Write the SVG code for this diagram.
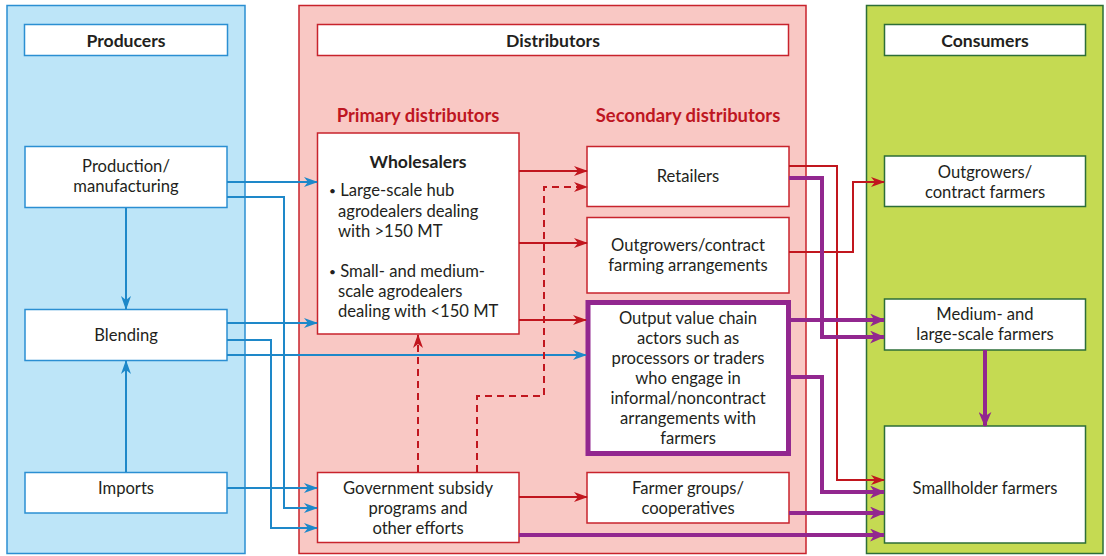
<svg xmlns="http://www.w3.org/2000/svg" width="1106" height="556" viewBox="0 0 1106 556">
<style>
.t{font-family:Lato,"Open Sans","Liberation Sans",sans-serif;font-size:16.6px;fill:#231f20;text-anchor:middle;dominant-baseline:central}
.s{text-anchor:start}
.b{font-weight:bold;font-size:17.6px}
.rh{font-family:Lato,"Open Sans","Liberation Sans",sans-serif;font-size:18.4px;font-weight:bold;fill:#be1622;text-anchor:middle;dominant-baseline:central}
.bx{fill:#fff;stroke-width:1.5}
.pb{stroke:#2b8fd2}
.db{stroke:#c8232c}
.cb{stroke:#2d6e38}
.bl{fill:none;stroke:#1e88c9;stroke-width:2}
.rd{fill:none;stroke:#c1161e;stroke-width:2}
.ds{fill:none;stroke:#c1161e;stroke-width:2;stroke-dasharray:7 5}
.pu{fill:none;stroke:#92278f;stroke-width:4}
</style>
<defs>
<marker id="ab" viewBox="0 0 14 10" refX="13" refY="5" markerWidth="14" markerHeight="10" markerUnits="userSpaceOnUse" orient="auto"><path d="M0,0 L14,5 L0,10 L4,5 z" fill="#1e88c9"/></marker>
<marker id="ar" viewBox="0 0 14 10" refX="13" refY="5" markerWidth="14" markerHeight="10" markerUnits="userSpaceOnUse" orient="auto"><path d="M0,0 L14,5 L0,10 L4,5 z" fill="#c1161e"/></marker>
<marker id="ap" viewBox="0 0 14 12" refX="13" refY="6" markerWidth="15" markerHeight="13" markerUnits="userSpaceOnUse" orient="auto"><path d="M0,0 L14,6 L0,12 L4,6 z" fill="#92278f"/></marker>
</defs>
<rect width="1106" height="556" fill="#fff"/>
<g id="panel-producers">
<rect x="7" y="5.5" width="238" height="548" fill="#bde5f8" stroke="#2b8fd2" stroke-width="1.5"/>
<rect class="bx pb" x="24.5" y="24.5" width="203" height="31"/>
<text class="t b" x="126" y="40">Producers</text>
</g>
<g id="panel-distributors">
<rect x="299" y="5.5" width="507" height="548" fill="#f9c8c4" stroke="#c8232c" stroke-width="1.5"/>
<rect class="bx db" x="317.5" y="24.5" width="471" height="31"/>
<text class="t b" x="553" y="40">Distributors</text>
<text class="rh" x="418" y="115">Primary distributors</text>
<text class="rh" x="688" y="115">Secondary distributors</text>
</g>
<g id="panel-consumers">
<rect x="866.5" y="5.5" width="236.5" height="548" fill="#c5da52" stroke="#2d6e38" stroke-width="1.5"/>
<rect class="bx cb" x="884.5" y="24.5" width="201" height="31"/>
<text class="t b" x="985" y="40">Consumers</text>
</g>
<g id="production">
<rect class="bx pb" x="25" y="146.5" width="202" height="61"/>
<text class="t" x="126" y="166">Production/</text>
<text class="t" x="126" y="186">manufacturing</text>
</g>
<g id="blending">
<rect class="bx pb" x="25" y="309.5" width="202" height="51"/>
<text class="t" x="126" y="335">Blending</text>
</g>
<g id="imports">
<rect class="bx pb" x="25" y="472.5" width="202" height="40.5"/>
<text class="t" x="126" y="488">Imports</text>
</g>
<g id="wholesalers">
<rect class="bx db" x="317.5" y="133" width="201.5" height="201"/>
<text class="t b" x="418" y="161">Wholesalers</text>
<text class="t s" x="329" y="190"><tspan font-size="12">•</tspan> Large-scale hub</text>
<text class="t s" x="338" y="211">agrodealers dealing</text>
<text class="t s" x="338" y="231">with &gt;150 MT</text>
<text class="t s" x="329" y="271"><tspan font-size="12">•</tspan> Small- and medium-</text>
<text class="t s" x="338" y="291">scale agrodealers</text>
<text class="t s" x="338" y="311">dealing with &lt;150 MT</text>
</g>
<g id="government">
<rect class="bx db" x="317.5" y="472.5" width="201.5" height="70"/>
<text class="t" x="418" y="488">Government subsidy</text>
<text class="t" x="418" y="508">programs and</text>
<text class="t" x="418" y="528">other efforts</text>
</g>
<g id="retailers">
<rect class="bx db" x="587" y="146.5" width="202" height="60"/>
<text class="t" x="688" y="176">Retailers</text>
</g>
<g id="outgrowers-arrangements">
<rect class="bx db" x="587" y="217.5" width="202" height="75.5"/>
<text class="t" x="688" y="245">Outgrowers/contract</text>
<text class="t" x="688" y="265">farming arrangements</text>
</g>
<g id="output-actors">
<rect x="588" y="302.5" width="200.5" height="151" fill="#fff" stroke="#92278f" stroke-width="5"/>
<text class="t" x="688" y="318">Output value chain</text>
<text class="t" x="688" y="338">actors such as</text>
<text class="t" x="688" y="358">processors or traders</text>
<text class="t" x="688" y="378">who engage in</text>
<text class="t" x="688" y="398">informal/noncontract</text>
<text class="t" x="688" y="418">arrangements with</text>
<text class="t" x="688" y="438">farmers</text>
</g>
<g id="farmer-groups">
<rect class="bx db" x="587" y="472.5" width="202" height="50.5"/>
<text class="t" x="688" y="488">Farmer groups/</text>
<text class="t" x="688" y="508">cooperatives</text>
</g>
<g id="outgrowers-farmers">
<rect class="bx cb" x="884.5" y="156" width="201" height="50.5"/>
<text class="t" x="985" y="172">Outgrowers/</text>
<text class="t" x="985" y="192">contract farmers</text>
</g>
<g id="medium-large">
<rect class="bx cb" x="884.5" y="299" width="201" height="51"/>
<text class="t" x="985" y="314">Medium- and</text>
<text class="t" x="985" y="334">large-scale farmers</text>
</g>
<g id="smallholder">
<rect class="bx cb" x="884.5" y="426" width="201" height="117"/>
<text class="t" x="985" y="488">Smallholder farmers</text>
</g>
<g id="connectors">
<path class="bl" d="M126,208 V309" marker-end="url(#ab)"/>
<path class="bl" d="M126,472 V361" marker-end="url(#ab)"/>
<path class="bl" d="M227,182 H317" marker-end="url(#ab)"/>
<path class="bl" d="M227,197 H284 V508 H317" marker-end="url(#ab)"/>
<path class="bl" d="M227,323 H317" marker-end="url(#ab)"/>
<path class="bl" d="M227,340 H271 V528 H317" marker-end="url(#ab)"/>
<path class="bl" d="M227,355 H586" marker-end="url(#ab)"/>
<path class="bl" d="M227,488 H317" marker-end="url(#ab)"/>
<path class="rd" d="M519,171 H587" marker-end="url(#ar)"/>
<path class="rd" d="M519,243 H587" marker-end="url(#ar)"/>
<path class="rd" d="M519,320 H586" marker-end="url(#ar)"/>
<path class="rd" d="M519,497 H587" marker-end="url(#ar)"/>
<path class="ds" d="M418,472 V335" marker-end="url(#ar)"/>
<path class="ds" d="M477,472 V396 H544 V187 H587" marker-end="url(#ar)"/>
<path class="rd" d="M789,166 H837 V480 H884" marker-end="url(#ar)"/>
<path class="rd" d="M789,252 H853 V182 H884" marker-end="url(#ar)"/>
<path class="pu" d="M789,178 H822 V337 H884" marker-end="url(#ap)"/>
<path class="pu" d="M790,320 H884" marker-end="url(#ap)"/>
<path class="pu" d="M790,377 H822 V492 H884" marker-end="url(#ap)"/>
<path class="pu" d="M789,513 H884" marker-end="url(#ap)"/>
<path class="pu" d="M519,535 H884" marker-end="url(#ap)"/>
<path class="pu" d="M985,350 V426" marker-end="url(#ap)"/>
</g>
</svg>
